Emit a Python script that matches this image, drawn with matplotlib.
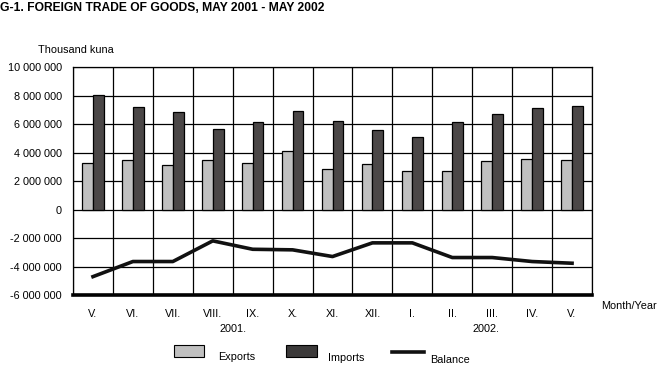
import numpy as np
import matplotlib
matplotlib.use("Agg")
from matplotlib import pyplot as plt
from matplotlib.patches import Rectangle
from matplotlib.lines import Line2D

plt.rcParams['font.family'] = ['Liberation Sans', 'DejaVu Sans']

months = ["V.", "VI.", "VII.", "VIII.", "IX.", "X.", "XI.", "XII.", "I.", "II.", "III.", "IV.", "V."]
years = ["2001.", "2002."]
exports = [3260000, 3490000, 3110000, 3490000, 3260000, 4120000, 2830000,
           3180000, 2690000, 2690000, 3400000, 3540000, 3470000]
imports = [8070000, 7190000, 6840000, 5640000, 6140000, 6910000, 6210000,
           5570000, 5080000, 6140000, 6700000, 7120000, 7260000]
balance = [-4710000, -3650000, -3650000, -2200000, -2790000, -2830000, -3300000,
           -2340000, -2340000, -3370000, -3370000, -3650000, -3770000]
yticks = [-6000000, -4000000, -2000000, 0, 2000000, 4000000, 6000000, 8000000, 10000000]

c_exp = "#c0c0c0"
c_imp = "#4b4747"

fig = plt.figure(figsize=(6.7, 3.74), dpi=100)
ax = fig.add_axes([0.109, 0.2112, 0.7746, 0.6096])

x = np.arange(len(months))
w = 0.27
ax.bar(x - w / 2, exports, w, color=c_exp, edgecolor="black", linewidth=0.9, zorder=3)
ax.bar(x + w / 2, imports, w, color=c_imp, edgecolor="black", linewidth=0.9, zorder=3)
ax.plot(x, balance, color="#111111", linewidth=2.6, zorder=4)

ax.set_xlim(-0.5, len(months) - 0.5)
ax.set_ylim(-6000000, 10000000)

# grid: horizontal at ticks, vertical between months
for v in yticks:
    ax.axhline(v, color="black", linewidth=0.9, zorder=1)
for i in range(len(months) + 1):
    ax.axvline(i - 0.5, color="black", linewidth=0.9, zorder=1)

for s in ["left", "right", "top"]:
    ax.spines[s].set_linewidth(0.9)
ax.spines["bottom"].set_linewidth(2.6)

ax.set_yticks(yticks)
ax.set_yticklabels(["{:,}".format(v).replace(",", " ") for v in yticks], fontsize=7.8)
ax.tick_params(axis="y", length=0, pad=8)
ax.set_xticks(x)
ax.set_xticklabels(months, fontsize=7.8)
ax.tick_params(axis="x", length=0, pad=10)

ax.text(3.5, -0.148, years[0], transform=ax.get_xaxis_transform(), ha="center", va="center", fontsize=7.8)
ax.text(9.85, -0.148, years[1], transform=ax.get_xaxis_transform(), ha="center", va="center", fontsize=7.8)

fig.text(0.0, 1 - 8 / 374, "G-1. FOREIGN TRADE OF GOODS, MAY 2001 - MAY 2002",
         fontsize=8.7, fontweight="bold", ha="left", va="center")
fig.text(38 / 670, 1 - 50 / 374, "Thousand kuna", fontsize=7.8, ha="left", va="center")
fig.text(629 / 670, 1 - 306 / 374, "Month/Year", fontsize=7.8, ha="center", va="center")

# legend
def fx(p):
    return p / 670

def fy(p):
    return 1 - p / 374

fig.add_artist(Rectangle((fx(174), fy(357)), 30 / 670, 12 / 374, transform=fig.transFigure,
                         facecolor=c_exp, edgecolor="black", linewidth=0.8))
fig.text(fx(218), fy(357), "Exports", fontsize=7.8, ha="left", va="center")
fig.add_artist(Rectangle((fx(286), fy(357)), 31 / 670, 12 / 374, transform=fig.transFigure,
                         facecolor="#3c3a3a", edgecolor="black", linewidth=0.8))
fig.text(fx(328), fy(358), "Imports", fontsize=7.8, ha="left", va="center")
fig.add_artist(Line2D([fx(392), fx(424)], [fy(352), fy(352)], transform=fig.transFigure,
                      color="#111111", linewidth=2.6))
fig.text(fx(430), fy(360), "Balance", fontsize=7.8, ha="left", va="center")

fig.savefig("out.png", dpi=100)
